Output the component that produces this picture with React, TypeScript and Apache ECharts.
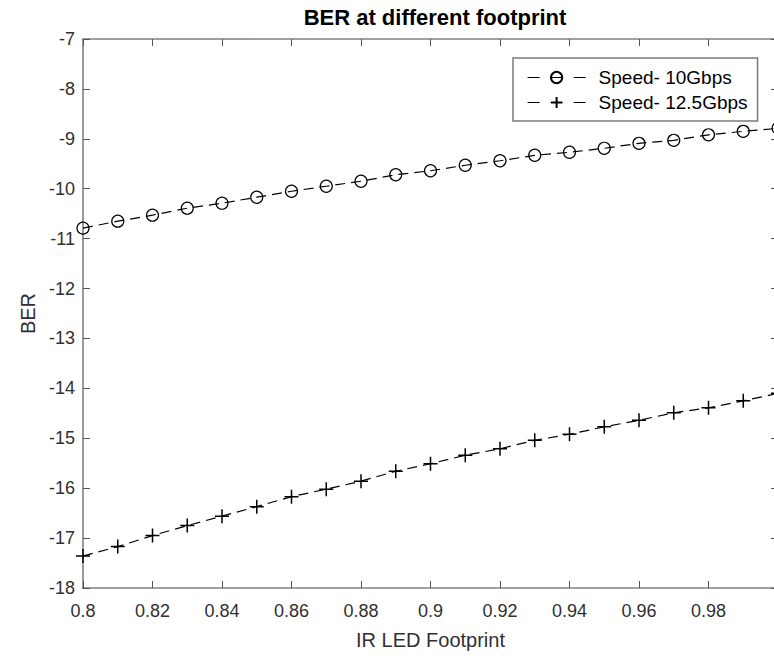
import React, { useEffect, useRef } from "react";
import * as echarts from "echarts";

const xValues = [0.8, 0.81, 0.82, 0.83, 0.84, 0.85, 0.86, 0.87, 0.88, 0.89, 0.9, 0.91, 0.92, 0.93, 0.94, 0.95, 0.96, 0.97, 0.98, 0.99, 1.0];
const ber10 = [-10.79, -10.65, -10.53, -10.39, -10.29, -10.17, -10.05, -9.95, -9.85, -9.72, -9.64, -9.53, -9.44, -9.33, -9.27, -9.19, -9.09, -9.03, -8.92, -8.85, -8.79];
const ber125 = [-17.36, -17.17, -16.95, -16.75, -16.56, -16.37, -16.17, -16.02, -15.86, -15.66, -15.51, -15.34, -15.21, -15.04, -14.92, -14.77, -14.64, -14.49, -14.39, -14.25, -14.1];
const seriesNames = ["Speed- 10Gbps", "Speed- 12.5Gbps"];

const FONT = "Liberation Sans, Arial, sans-serif";
const AXIS_COLOR = "#808080";
const LABEL_COLOR = "#303030";

export default function App() {
  const ref = useRef<HTMLDivElement>(null);
  useEffect(() => {
    if (!ref.current) return;
    const chart = echarts.init(ref.current, undefined, { renderer: "svg" });
    const axisCommon = {
      axisLine: { show: true, onZero: false, lineStyle: { color: AXIS_COLOR, width: 1.6 } },
      axisTick: { show: true, inside: true, length: 7, lineStyle: { color: "#555", width: 1 } },
      splitLine: { show: false },
    };
    chart.setOption({
      animation: false,
      backgroundColor: "#ffffff",
      title: {
        text: "BER at different footprint",
        left: 430,
        textAlign: "center",
        top: 1,
        textStyle: { fontFamily: FONT, fontSize: 22, fontWeight: "bold", color: "#000" },
      },
      legend: {
        left: 513,
        top: 58,
        orient: "vertical",
        itemWidth: 58,
        itemHeight: 14,
        itemGap: 4,
        padding: [9, 10, 8, 14],
        borderColor: "#7a7a7a",
        borderWidth: 1.5,
        backgroundColor: "#fff",
        lineStyle: { type: [12, 11], width: 1.2 },
        textStyle: { fontFamily: FONT, fontSize: 19, lineHeight: 21, color: "#000", padding: [0, 0, 0, 8] },
        data: seriesNames,
      },
      grid: { left: 83, top: 39, right: 12, bottom: 71, containLabel: false },
      xAxis: [
        {
          type: "value",
          min: 0.8,
          max: 1,
          interval: 0.02,
          position: "bottom",
          name: "IR LED Footprint",
          nameLocation: "middle",
          nameGap: 42,
          nameTextStyle: { fontFamily: FONT, fontSize: 20, color: LABEL_COLOR },
          axisLabel: {
            fontFamily: FONT,
            fontSize: 18,
            color: LABEL_COLOR,
            margin: 14,
            formatter: (v: number) => String(parseFloat(v.toFixed(2))),
          },
          ...axisCommon,
        },
        {
          type: "value",
          min: 0.8,
          max: 1,
          interval: 0.02,
          position: "top",
          axisLabel: { show: false },
          ...axisCommon,
        },
      ],
      yAxis: [
        {
          type: "value",
          min: -18,
          max: -7,
          interval: 1,
          position: "left",
          name: "BER",
          nameLocation: "middle",
          nameGap: 45,
          nameTextStyle: { fontFamily: FONT, fontSize: 20, color: LABEL_COLOR },
          axisLabel: { fontFamily: FONT, fontSize: 18, color: LABEL_COLOR, margin: 8 },
          ...axisCommon,
        },
        {
          type: "value",
          min: -18,
          max: -7,
          interval: 1,
          position: "right",
          axisLabel: { show: false },
          ...axisCommon,
        },
      ],
      series: [
        {
          name: seriesNames[0],
          type: "line",
          data: xValues.map((x, i) => [x, ber10[i]]),
          symbol: "circle",
          symbolSize: 12,
          showAllSymbol: true,
          lineStyle: { color: "#000", width: 1.2, type: [10, 6] },
          itemStyle: { color: "rgba(0,0,0,0)", borderColor: "#000", borderWidth: 1.2 },
          z: 3,
        },
        {
          name: seriesNames[1],
          type: "line",
          data: xValues.map((x, i) => [x, ber125[i]]),
          symbol: "path://M0,6L12,6M6,0L6,12",
          symbolSize: 14,
          showAllSymbol: true,
          lineStyle: { color: "#000", width: 1.2, type: [10, 6] },
          itemStyle: { color: "rgba(0,0,0,0)", borderColor: "#000", borderWidth: 1.5 },
          z: 3,
        },
      ],
    });
    return () => chart.dispose();
  }, []);
  return (
    <div style={{ position: "fixed", left: 0, top: 0, width: 774, height: 659, overflow: "hidden", background: "#fff" }}>
      <div ref={ref} style={{ width: 790, height: 659 }} />
    </div>
  );
}
